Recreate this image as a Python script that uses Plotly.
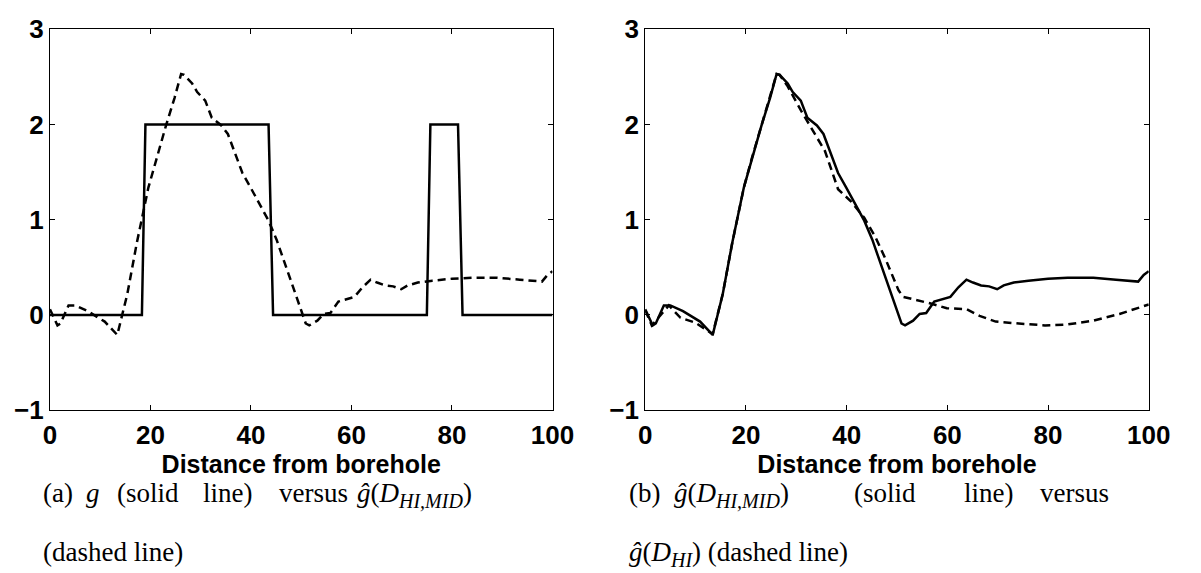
import plotly.graph_objects as go

# ---------------- data ----------------
# true function g (solid line, left panel)
g_x = [0, 18.3, 19.0, 43.5, 44.4, 75.0, 75.7, 81.2, 82.1, 100]
g_y = [0, 0, 2, 2, 0, 0, 2, 2, 0, 0]

# estimate g_hat(D_HI,MID)
mid_x = [0, 1.5, 2.1, 3.7, 5.0, 6.6, 7.5, 10.9, 13.4, 15.4, 17.3, 19.6, 21.2, 23.1,
         24.8, 26.1, 26.7, 28.3, 29.3, 30.9, 32.2, 34.1, 35.4, 36.7, 38.3, 39.9,
         41.9, 43.5, 45.1, 46.4, 47.7, 50.9, 51.6, 53.2, 54.5, 55.8, 57.4, 59.3,
         60.6, 62.2, 63.8, 65.1, 66.7, 68.3, 69.9, 71.2, 73.2, 76.1, 80.0, 83.9,
         89.0, 93.5, 97.9, 99.0, 100]
mid_y = [0.06, -0.11, -0.09, 0.10, 0.10, 0.06, 0.04, -0.07, -0.21, 0.22, 0.76, 1.34,
         1.65, 1.99, 2.28, 2.53, 2.52, 2.43, 2.34, 2.25, 2.07, 1.99, 1.90, 1.72,
         1.49, 1.34, 1.15, 0.99, 0.79, 0.59, 0.39, -0.09, -0.11, -0.06, 0.01, 0.02,
         0.14, 0.17, 0.19, 0.29, 0.37, 0.34, 0.31, 0.30, 0.27, 0.31, 0.34, 0.36,
         0.38, 0.39, 0.39, 0.37, 0.35, 0.42, 0.46]

# estimate g_hat(D_HI)
hi_x = [0, 1.3, 1.8, 4.7, 7.0, 9.9, 13.4, 15.4, 17.3, 19.6, 21.2, 23.1, 24.8, 26.1,
        26.7, 28.3, 30.9, 33.1, 35.7, 38.3, 40.9, 43.5, 45.7, 47.7, 50.3, 51.2,
        53.5, 56.7, 59.9, 63.8, 66.4, 69.6, 74.2, 79.4, 83.9, 89.0, 94.2, 100]
hi_y = [0.05, -0.11, -0.08, 0.10, -0.03, -0.08, -0.20, 0.22, 0.76, 1.34, 1.65, 1.99,
        2.28, 2.53, 2.52, 2.40, 2.15, 1.95, 1.72, 1.32, 1.19, 1.02, 0.82, 0.59,
        0.26, 0.19, 0.16, 0.12, 0.07, 0.06, -0.01, -0.07, -0.09, -0.11, -0.10,
        -0.06, 0.01, 0.11]

x_ticks = [0, 20, 40, 60, 80, 100]
y_ticks = [-1, 0, 1, 2, 3]
x_title = "Distance from borehole"

W, H = 1201, 573
left_dom = [44 / W, 559 / W]
right_dom = [654 / W, 1170 / W]
y_dom = [1 - 417 / H, 1 - 15 / H]

fig = go.Figure()
solid = dict(color="black", width=2.5)
dashed = dict(color="black", width=2.5, dash="8px,5px")

fig.add_trace(go.Scatter(x=g_x, y=g_y, mode="lines", line=solid, xaxis="x", yaxis="y"))
fig.add_trace(go.Scatter(x=mid_x, y=mid_y, mode="lines", line=dashed, xaxis="x", yaxis="y"))
fig.add_trace(go.Scatter(x=mid_x, y=mid_y, mode="lines", line=solid, xaxis="x2", yaxis="y2"))
fig.add_trace(go.Scatter(x=hi_x, y=hi_y, mode="lines", line=dashed, xaxis="x2", yaxis="y2"))

tickfont = dict(family="Liberation Sans, Arial", size=26, color="black", weight="bold")
titlefont = dict(family="Liberation Sans, Arial", size=25, color="black", weight="bold")

def xaxis(dom, anchor):
    return dict(domain=dom, anchor=anchor, range=[0, 100], tickvals=x_ticks,
                showgrid=False, zeroline=False, showline=True, linecolor="black",
                linewidth=1, mirror="ticks", ticks="inside", ticklen=5, tickcolor="black",
                tickfont=tickfont, ticklabelstandoff=2,
                title=dict(text=x_title, font=titlefont, standoff=0))

def yaxis(anchor):
    return dict(domain=y_dom, anchor=anchor, range=[-1, 3], tickvals=y_ticks,
                showgrid=False, zeroline=False, showline=True, linecolor="black",
                linewidth=1, mirror="ticks", ticks="inside", ticklen=5, tickcolor="black",
                tickfont=tickfont, ticklabelstandoff=0)

cap_font = dict(family="Liberation Serif, Times New Roman", size=27, color="black")
SUB = "<sub><span style='font-size:20px'><i>{}</i></span></sub>"
ghat_mid = "<i>ĝ</i>(<i>D</i>" + SUB.format("HI,MID") + ")"
ghat_hi = "<i>ĝ</i>(<i>D</i>" + SUB.format("HI") + ")"

y1 = 1 - 487 / H
y2 = 1 - 550 / H
captions = [
    ("(a)", 36, y1), ("<i>g</i>", 80, y1), ("(solid", 112, y1), ("line)", 200, y1),
    ("versus", 278, y1), (ghat_mid, 358, y1), ("(dashed line)", 36, y2),
    ("(b)", 636, y1), (ghat_mid, 682, y1), ("(solid", 867, y1), ("line)", 980, y1),
    ("versus", 1058, y1), (ghat_hi + " (dashed line)", 636, y2),
]
annotations = [dict(text=t, x=xp / W, y=yp, xref="paper", yref="paper",
                    xanchor="left", yanchor="top", showarrow=False, font=cap_font,
                    borderpad=0)
               for t, xp, yp in captions]

fig.update_layout(
    width=W, height=H, margin=dict(l=0, r=0, t=0, b=0),
    paper_bgcolor="white", plot_bgcolor="white", showlegend=False,
    xaxis=xaxis(left_dom, "y"), yaxis=yaxis("x"),
    xaxis2=xaxis(right_dom, "y2"), yaxis2=yaxis("x2"),
    annotations=annotations,
)

fig.write_html("out.html")
